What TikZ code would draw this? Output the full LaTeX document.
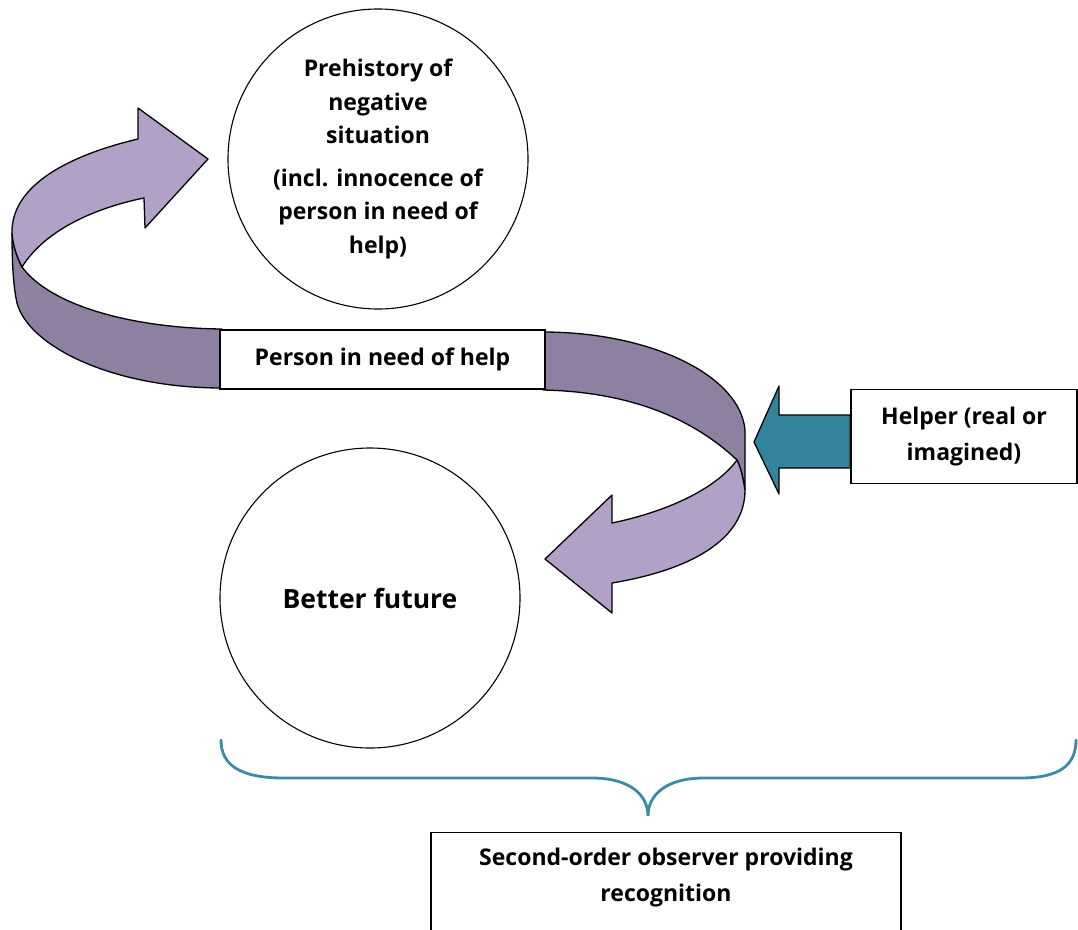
\documentclass[tikz,border=0pt]{standalone}
\usepackage{fontspec}
\setmainfont{Open Sans}
\definecolor{lightp}{HTML}{B2A1C7}
\definecolor{darkp}{HTML}{8E80A0}
\definecolor{tealar}{HTML}{31849B}
\definecolor{bracec}{HTML}{3A8CA4}
\begin{document}
\begin{tikzpicture}[x=1pt,y=-1pt,
  outl/.style={draw=black,line width=1.3pt,line join=round},
  circ/.style={circle,draw=black,line width=1.1pt,minimum size=300pt,inner sep=0pt,align=center},
  boxn/.style={rectangle,draw=black,line width=1.4pt,fill=white,inner sep=0pt,align=center},
  txt/.style={font=\fontsize{23}{33.6}\selectfont\bfseries},
  txtw/.style={font=\fontsize{23}{36.5}\selectfont\bfseries}]
\useasboundingbox (0,0) rectangle (1078,929);
\clip (0,0) rectangle (1078,929);
% circles
\node[circ,txt] (pre) at (378,159) {Prehistory of\\negative\\situation\\[8.5pt](incl. innocence of\\person in need of\\help)};
\node[circ,font=\fontsize{26.5}{30}\selectfont\bfseries] (fut) at (370,598) {Better future};
% left ribbon arrow: dark back part
\fill[darkp,outl] (12,233) .. controls (12,260) and (13,285) .. (17,303)
  .. controls (28,345) and (110,388) .. (222,388) -- (222,329)
  .. controls (130,328) and (50,305) .. (22,267)
  .. controls (16,255) and (13,245) .. (12,233) -- cycle;
% left ribbon arrow: light front part
\fill[lightp,outl] (12,233) .. controls (11,185) and (70,155) .. (138,139)
  -- (138,108) -- (208,159) -- (145,228) -- (144,198)
  .. controls (95,208) and (45,230) .. (22,267)
  .. controls (16,255) and (13,245) .. (12,233) -- cycle;
% right ribbon arrow: dark part
\fill[darkp,outl] (543,332) .. controls (650,332) and (740,375) .. (745,430)
  -- (745,490) .. controls (743,478) and (741,468) .. (737,460)
  .. controls (700,425) and (640,392) .. (543,390) -- cycle;
% right ribbon arrow: light part with head
\fill[lightp,outl] (745,490) .. controls (745,540) and (690,570) .. (612,583)
  -- (612,613) -- (545,559) -- (612,495) -- (612,523)
  .. controls (665,512) and (715,490) .. (737,460)
  .. controls (741,468) and (743,478) .. (745,490) -- cycle;
% boxes
\node[boxn,txt,minimum width=325pt,minimum height=59pt] (per) at (382.5,359.5) {Person in need of help};
\node[boxn,txtw,minimum width=226pt,minimum height=94pt] (hel) at (964,436.5) {Helper (real or\\imagined)};
\node[boxn,txt,minimum width=470pt,minimum height=130pt,anchor=north] (obs) at (666,832) {};
\node[txtw,align=center] (obstxt) at (666,877.5) {Second-order observer providing\\recognition};
% helper arrow
\fill[tealar,outl] (hel.west |- 0,415) -- (779,415) -- (779,386) -- (754,442)
  -- (779,494) -- (779,468) -- (hel.west |- 0,468) -- cycle;
% brace
\coordinate (bl) at (221,740);
\coordinate (bt) at (648,816);
\coordinate (br) at (1076,740);
\draw[bracec,line width=2.8pt,line cap=round] (bl) .. controls (221,765) and (240,778) .. (284,778)
  -- (592,778) .. controls (630,778) and (648,795) .. (bt)
  .. controls (648,795) and (666,778) .. (704,778)
  -- (1020,778) .. controls (1060,778) and (1076,765) .. (br);
\end{tikzpicture}
\end{document}
